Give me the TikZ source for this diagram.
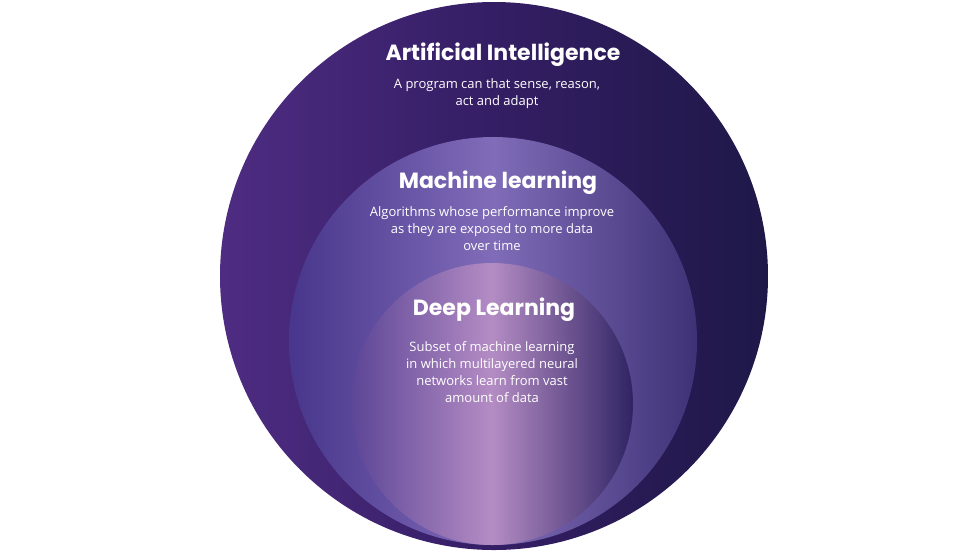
\documentclass[tikz,border=0pt]{standalone}
\usepackage{fontspec}
\setmainfont{Open Sans}
\newfontfamily\titlefont{Poppins}
\begin{document}
\begin{tikzpicture}[x=1pt,y=-1pt,
  ttl/.style={font=\titlefont\bfseries\fontsize{22}{26}\selectfont,text=white},
  desc/.style={font=\fontsize{13}{17}\selectfont,text=white,align=center}]
\useasboundingbox (0,0) rectangle (957,550);
\path[left color=black!0,right color=black!0] (0,0) rectangle (957,550);
\shade[left color=black!0, right color=black!0] (0,0) rectangle (1,1);
\shade[left color={rgb,255:red,78;green,44;blue,130}, right color={rgb,255:red,30;green,24;blue,72}, middle color={rgb,255:red,52;green,30;blue,100}] (494,276) circle (274);
\shade[left color={rgb,255:red,72;green,54;blue,140}, right color={rgb,255:red,62;green,50;blue,118}, middle color={rgb,255:red,128;green,108;blue,184}] (493,341) circle (204);
\shade[left color={rgb,255:red,92;green,70;blue,150}, right color={rgb,255:red,48;green,36;blue,100}, middle color={rgb,255:red,180;green,140;blue,196}] (492,404) circle (141);
\node[ttl] (ai) at (503,55) {Artificial Intelligence};
\node[desc] (aid) at (497,94) {A program can that sense, reason,\\act and adapt};
\node[ttl] (ml) at (498,183) {Machine learning};
\node[desc] (mld) at (492,229) {Algorithms whose performance improve\\as they are exposed to more data\\over time};
\node[ttl] (dl) at (494,310) {Deep Learning};
\node[desc] (dld) at (492,372) {Subset of machine learning\\in which multilayered neural\\networks learn from vast\\amount of data};
\end{tikzpicture}
\end{document}
